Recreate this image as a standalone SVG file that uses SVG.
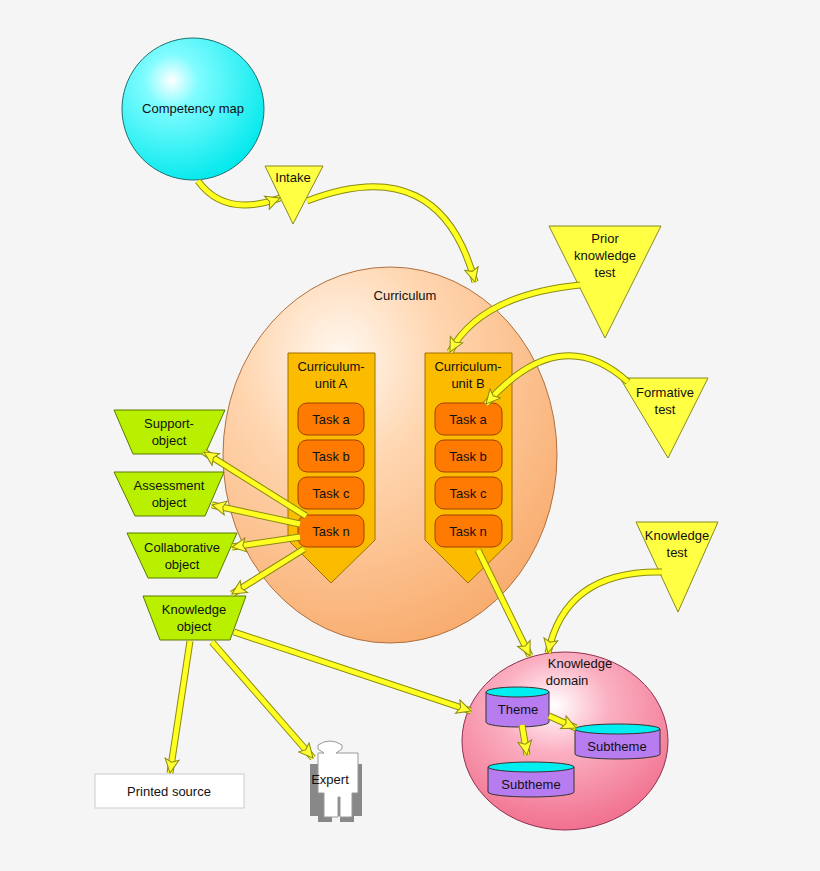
<svg xmlns="http://www.w3.org/2000/svg" width="820" height="871" viewBox="0 0 820 871">
<defs>
<radialGradient id="gc" cx="0.35" cy="0.3" r="0.75"><stop offset="0" stop-color="#ffffff"/><stop offset="0.25" stop-color="#7ffcff"/><stop offset="1" stop-color="#00e8ec"/></radialGradient>
<radialGradient id="gp" cx="0.35" cy="0.24" r="0.85"><stop offset="0" stop-color="#fff8f0"/><stop offset="0.35" stop-color="#ffd6b0"/><stop offset="1" stop-color="#f8a868"/></radialGradient>
<radialGradient id="gk" cx="0.45" cy="0.3" r="0.75"><stop offset="0" stop-color="#ffffff"/><stop offset="0.35" stop-color="#fbb0c2"/><stop offset="1" stop-color="#f06a8a"/></radialGradient>
<marker id="ah" markerUnits="userSpaceOnUse" markerWidth="18" markerHeight="16" refX="15" refY="8" orient="auto"><path d="M1,1 L15,8 L1,15 L4,8 z" fill="#ffff33" stroke="#8a8a10" stroke-width="1"/></marker>
</defs>
<style>
text{font-family:"Liberation Sans",Arial,sans-serif;font-size:13px;fill:#111;text-anchor:middle}
.tri{fill:#ffff44;stroke:#888820;stroke-width:1}
.trap{fill:#b8f000;stroke:#5a7a00;stroke-width:1}
.unit{fill:#fbbc00;stroke:#a07000;stroke-width:1}
.task{fill:#ff7a00;stroke:#a04000;stroke-width:1}
.ao{fill:none;stroke:#8a8a10;stroke-width:7}
.ai{fill:none;stroke:#ffff22;stroke-width:5;marker-end:url(#ah)}
.cyl{fill:#b77cf0;stroke:#333;stroke-width:1}
.cylt{fill:#00eef0;stroke:#333;stroke-width:1}
</style>
<rect width="820" height="871" fill="#f5f5f5"/>

<g id="curriculum"><ellipse cx="390" cy="455" rx="167" ry="188" fill="url(#gp)" stroke="#b07040"/><text x="405" y="300">Curriculum</text></g>
<g id="competency"><circle cx="193" cy="109" r="71" fill="url(#gc)" stroke="#207070"/><text x="193" y="113">Competency map</text></g>
<g id="intake"><polygon class="tri" points="265,166 323,166 293,224"/><text x="293" y="182">Intake</text></g>
<g id="prior"><polygon class="tri" points="549,226 661,226 605,338"/><text x="605" y="243">Prior</text><text x="605" y="260">knowledge</text><text x="605" y="277">test</text></g>
<g id="formative"><polygon class="tri" points="620,378 708,378 668,458"/><text x="665" y="397">Formative</text><text x="665" y="414">test</text></g>
<g id="ktest"><polygon class="tri" points="636,522 718,522 678,612"/><text x="677" y="540">Knowledge</text><text x="677" y="557">test</text></g>

<g id="unitA"><polygon class="unit" points="288,353 375,353 375,540 331,583 288,540"/><text x="331" y="371">Curriculum-</text><text x="331" y="388">unit A</text>
<rect class="task" x="298" y="403" width="66" height="32" rx="9"/><text x="331" y="424">Task a</text>
<rect class="task" x="298" y="440" width="66" height="32" rx="9"/><text x="331" y="461">Task b</text>
<rect class="task" x="298" y="477" width="66" height="32" rx="9"/><text x="331" y="498">Task c</text>
<rect class="task" x="298" y="515" width="66" height="32" rx="9"/><text x="331" y="536">Task n</text></g>
<g id="unitB"><polygon class="unit" points="425,353 512,353 512,540 468,583 425,540"/><text x="468" y="371">Curriculum-</text><text x="468" y="388">unit B</text>
<rect class="task" x="435" y="403" width="67" height="32" rx="9"/><text x="468" y="424">Task a</text>
<rect class="task" x="435" y="440" width="67" height="32" rx="9"/><text x="468" y="461">Task b</text>
<rect class="task" x="435" y="477" width="67" height="32" rx="9"/><text x="468" y="498">Task c</text>
<rect class="task" x="435" y="515" width="67" height="32" rx="9"/><text x="468" y="536">Task n</text></g>

<g id="support"><polygon class="trap" points="114,410 225,410 205,454 133,454"/><text x="169" y="428">Support-</text><text x="169" y="445">object</text></g>
<g id="assessment"><polygon class="trap" points="114,472 224,472 205,516 135,516"/><text x="169" y="490">Assessment</text><text x="169" y="507">object</text></g>
<g id="collab"><polygon class="trap" points="127,533 237,533 217,578 148,578"/><text x="182" y="552">Collaborative</text><text x="182" y="569">object</text></g>
<g id="kobject"><polygon class="trap" points="143,596 246,596 230,640 160,640"/><text x="194" y="614">Knowledge</text><text x="194" y="631">object</text></g>

<g id="printed"><rect x="95" y="774" width="149" height="34" fill="#fff" stroke="#ccc"/><text x="169" y="796">Printed source</text></g>
<g id="expert">
<path d="M324,758 h20 v6 h18 v52 h-8 v6 h-14 v-6 h-8 v6 h-14 v-6 h-8 v-52 h14 z" fill="#888"/>
<path d="M318,745 q12,-8 24,0 v4 l-6,4 h22 v40 h-6 v24 h-12 v-20 h-2 v20 h-14 v-24 h-6 v-40 h6 l-6,-4 z" fill="#fff" stroke="#999"/>
<text x="330" y="784">Expert</text></g>

<g id="kdomain"><ellipse cx="565" cy="741" rx="103" ry="89" fill="url(#gk)" stroke="#903050"/><text x="580" y="668">Knowledge</text><text x="567" y="685">domain</text>
<path class="cyl" d="M486,692 v30 a31.5,5 0 0 0 63,0 v-30 z"/><ellipse class="cylt" cx="517.5" cy="692" rx="31.5" ry="5"/><text x="518" y="714">Theme</text>
<path class="cyl" d="M575,729 v25 a42.5,5 0 0 0 85,0 v-25 z"/><ellipse class="cylt" cx="617.5" cy="729" rx="42.5" ry="5"/><text x="617" y="751">Subtheme</text>
<path class="cyl" d="M488,767 v25 a43,5 0 0 0 86,0 v-25 z"/><ellipse class="cylt" cx="531" cy="767" rx="43" ry="5"/><text x="531" y="789">Subtheme</text></g>

<g id="connectors">
<path class="ao" d="M198,181 Q225,218 280,198"/><path class="ai" d="M198,181 Q225,218 280,198"/>
<path class="ao" d="M307,201 Q440,150 475,282"/><path class="ai" d="M307,201 Q440,150 475,282"/>
<path class="ao" d="M580,285 Q480,295 450,352"/><path class="ai" d="M580,285 Q480,295 450,352"/>
<path class="ao" d="M628,382 Q560,320 486,404"/><path class="ai" d="M628,382 Q560,320 486,404"/>
<path class="ao" d="M662,572 Q565,570 548,653"/><path class="ai" d="M662,572 Q565,570 548,653"/>
<path class="ao" d="M306,516 L204,452"/><path class="ai" d="M306,516 L204,452"/>
<path class="ao" d="M300,524 L212,505"/><path class="ai" d="M300,524 L212,505"/>
<path class="ao" d="M300,537 L232,547"/><path class="ai" d="M300,537 L232,547"/>
<path class="ao" d="M304,549 L232,594"/><path class="ai" d="M304,549 L232,594"/>
<path class="ao" d="M478,550 L530,656"/><path class="ai" d="M478,550 L530,656"/>
<path class="ao" d="M190,641 L170,773"/><path class="ai" d="M190,641 L170,773"/>
<path class="ao" d="M212,642 L313,758"/><path class="ai" d="M212,642 L313,758"/>
<path class="ao" d="M234,632 L471,711"/><path class="ai" d="M234,632 L471,711"/>
<path class="ao" d="M549,716 L576,728"/><path class="ai" d="M549,716 L576,728"/>
<path class="ao" d="M522,725 L527,755"/><path class="ai" d="M522,725 L527,755"/>
</g>
</svg>
